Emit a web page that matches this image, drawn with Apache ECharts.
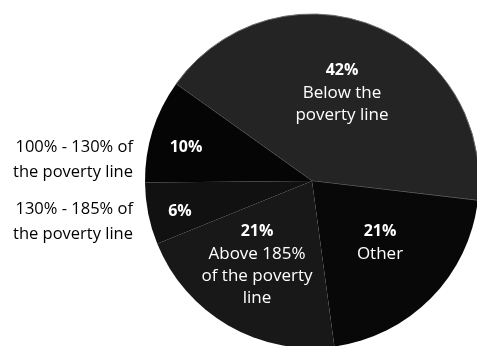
<!DOCTYPE html>
<html>
<head>
<meta charset="utf-8">
<script src="https://cdn.jsdelivr.net/npm/echarts@6/dist/echarts.min.js"></script>
<style>
html,body{margin:0;padding:0;background:#fff;}
#c{width:477px;height:346px;}
</style>
</head>
<body>
<div id="c"></div>
<script>
// Data
var categories = ['Below the poverty line', 'Other', 'Above 185% of the poverty line', '130% - 185% of the poverty line', '100% - 130% of the poverty line'];
var values = [42, 21, 21, 6, 10];
var insideText = ['Below the\npoverty line', 'Other', 'Above 185%\nof the poverty\nline', '', ''];
var sideText = ['', '', '', '130% - 185% of\nthe poverty line', '100% - 130% of\nthe poverty line'];
var sliceColors = ['#242424', '#080808', '#181818', '#111111', '#050505'];

var FONT = '"Open Sans", "Noto Sans", sans-serif';
var CX = 312, CY = 181, R = 167;

// label target centres (label placement only)
var insidePos = [[342, 92], [380, 242], [257, 264], [180, 211], [186, 147]];
var sidePos = [[133, 222], [133, 160]];

var chart = echarts.init(document.getElementById('c'), null, {renderer: 'canvas'});

var mainData = categories.map(function (n, i) {
  var d = {name: n, value: values[i], itemStyle: {color: sliceColors[i]}};
  if (i === 0) { d.itemStyle.borderColor = '#6e6e6e'; d.itemStyle.borderWidth = 1; }
  return d;
});
var overlayData = categories.map(function (n, i) {
  return {name: n, value: values[i]};
});

chart.setOption({
  animation: false,
  series: [
    {
      type: 'pie',
      center: [CX, CY],
      radius: [0, R],
      startAngle: 144.5,
      clockwise: true,
      silent: true,
      data: mainData,
      itemStyle: {borderWidth: 0},
      label: {
        show: true,
        position: 'inside',
        fontFamily: FONT,
        color: '#fff',
        formatter: function (p) {
          var t = insideText[p.dataIndex];
          var s = '{p|' + p.value + '%}';
          if (t) s += '\n' + t.split('\n').map(function (x) { return '{t|' + x + '}'; }).join('\n');
          return s;
        },
        rich: {
          p: {fontFamily: FONT, fontSize: 16, fontWeight: 'bold', color: '#fff', lineHeight: 24, align: 'center'},
          t: {fontFamily: FONT, fontSize: 17, color: '#fff', lineHeight: 22, align: 'center'}
        }
      },
      labelLine: {show: false},
      labelLayout: function (params) {
        var p = insidePos[params.dataIndex];
        return {x: p[0], y: p[1], align: 'center', verticalAlign: 'middle'};
      }
    },
    {
      type: 'pie',
      center: [CX, CY],
      radius: [0, R],
      startAngle: 144.5,
      clockwise: true,
      silent: true,
      data: overlayData,
      itemStyle: {color: 'rgba(0,0,0,0)'},
      label: {
        show: true,
        position: 'inside',
        fontFamily: FONT,
        fontSize: 16.5,
        color: '#000',
        lineHeight: 25,
        align: 'right',
        formatter: function (p) { return sideText[p.dataIndex]; }
      },
      labelLine: {show: false},
      labelLayout: function (params) {
        var i = params.dataIndex;
        if (i < 3) return {x: -500, y: -500};
        var p = sidePos[i - 3];
        return {x: p[0], y: p[1], align: 'right', verticalAlign: 'middle'};
      }
    }
  ]
});
</script>
</body>
</html>
